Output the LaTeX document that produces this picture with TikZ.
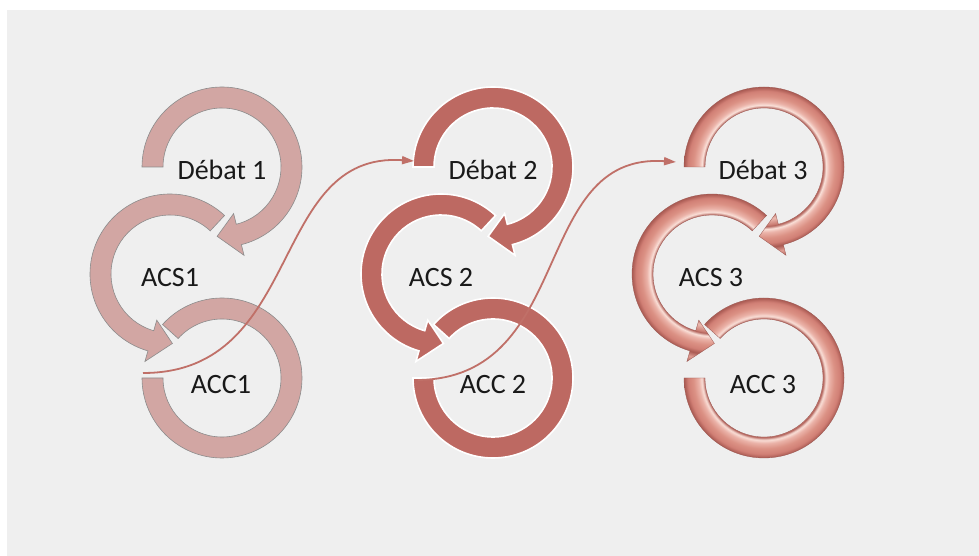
\documentclass[tikz,border=0pt]{standalone}
\usepackage{fontspec}
\setmainfont{Carlito}
\usetikzlibrary{arrows.meta}

\definecolor{bgGray}{HTML}{EFEFEF}
\definecolor{roseLight}{HTML}{D2A6A3}
\definecolor{roseDark}{HTML}{BD6962}
\definecolor{roseLine}{HTML}{C07068}
\pgfdeclareradialshading{roseMetal}{\pgfpoint{0bp}{0bp}}{%
  rgb(0bp)=(0.74,0.44,0.40); rgb(12.4bp)=(0.74,0.44,0.40);
  rgb(13.6bp)=(0.93,0.74,0.70); rgb(15.2bp)=(0.80,0.50,0.46);
  rgb(15.6bp)=(0.70,0.39,0.36); rgb(16.3bp)=(0.98,0.88,0.85);
  rgb(17.2bp)=(0.92,0.70,0.66); rgb(18.6bp)=(0.86,0.57,0.52);
  rgb(20bp)=(0.82,0.50,0.46); rgb(21.05bp)=(0.66,0.35,0.32);
  rgb(22.4bp)=(0.88,0.62,0.58); rgb(24bp)=(0.68,0.37,0.34);
  rgb(50bp)=(0.68,0.37,0.34)}

\begin{document}
\begin{tikzpicture}[
        x=1pt, y=1pt,
        ringtext/.style={font=\fontsize{28}{32}\selectfont, text=black!90, inner sep=0pt},
        flatA/.style={fill=roseLight},
        edgeA/.style={draw=black!45, line width=0.6pt},
        flatB/.style={fill=roseDark},
        edgeB/.style={draw=white, line width=1.6pt},
        metalC/.style={shade, shading=roseMetal},
        edgeC/.style={draw=roseDark!80!black, line width=0.3pt},
        link/.style={draw=roseLine, line width=1.8pt, -{Triangle[length=12pt, width=8pt]}},
        pics/headring/.style n args={5}{code={
            \def\ringpath{(#1:80) arc[start angle=#1, end angle=#2, radius=80]
                -- (#2:91) -- (#3:69.5) -- (#2:48) -- (#2:59)
                arc[start angle=#2, end angle=#1, radius=59] -- cycle}
            \begin{scope}
                \clip \ringpath;
                \path[#4] (0,0) circle[radius=95];
            \end{scope}
            \path[#5] \ringpath;
        }},
        pics/openring/.style n args={4}{code={
            \def\ringpath{(#1:80) arc[start angle=#1, end angle=#2, radius=80]
                -- (#2:59) arc[start angle=#2, end angle=#1, radius=59] -- cycle}
            \begin{scope}
                \clip \ringpath;
                \path[#3] (0,0) circle[radius=95];
            \end{scope}
            \path[#4] \ringpath;
        }}
    ]
        \useasboundingbox (0,0) rectangle (979,556);
        \fill[bgGray] (7,0) rectangle (979,546);

        % first cycle
        \pic at (222,389) {headring={180}{-76}{-94}{flatA}{edgeA}};
        \pic at (170,282) {headring={47}{254}{272}{flatA}{edgeA}};
        \pic at (222,178) {openring={138}{-180}{flatA}{edgeA}};
        \node[ringtext] (deb1) at (222,386) {Débat 1};
        \node[ringtext] (acs1) at (170,278) {ACS1};
        \node[ringtext] (acc1) at (221,171) {ACC1};

        % second cycle
        \pic at (493,389) {headring={180}{-76}{-94}{flatB}{edgeB}};
        \pic at (441,282) {headring={47}{254}{272}{flatB}{edgeB}};
        \pic at (493,178) {openring={138}{-180}{flatB}{edgeB}};
        \node[ringtext] (deb2) at (493,386) {Débat 2};
        \node[ringtext] (acs2) at (441,278) {ACS 2};
        \node[ringtext] (acc2) at (493,171) {ACC 2};

        % third cycle
        \pic at (764,389) {headring={180}{-76}{-94}{metalC}{edgeC}};
        \pic at (712,282) {headring={47}{254}{272}{metalC}{edgeC}};
        \pic at (764,178) {openring={138}{-180}{metalC}{edgeC}};
        \node[ringtext] (deb3) at (763,386) {Débat 3};
        \node[ringtext] (acs3) at (711,278) {ACS 3};
        \node[ringtext] (acc3) at (763,171) {ACC 3};

        % links between cycles
        \coordinate (acc1end) at (143,183);
        \coordinate (deb2start) at (414,395);
        \coordinate (acc2end) at (418,176);
        \coordinate (deb3start) at (676,394);
        \draw[link] (acc1end) .. controls +(162,0) and +(-146,10) .. (deb2start);
        \draw[link] (acc2end) .. controls +(158,2) and +(-146,10) .. (deb3start);
    \end{tikzpicture}
\end{document}
